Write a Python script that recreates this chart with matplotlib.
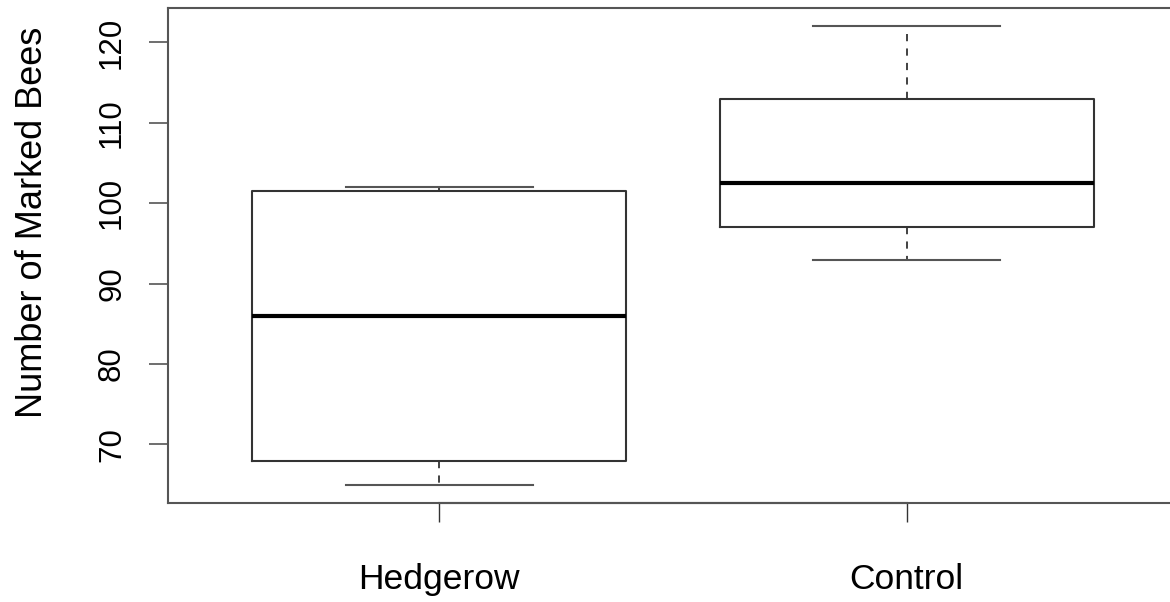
import matplotlib
matplotlib.use("Agg")
import matplotlib.pyplot as plt

plt.rcParams['font.family'] = ['Liberation Sans', 'DejaVu Sans']

groups = ["Hedgerow", "Control"]
whisker_low = [65, 93]
q1 = [68, 97]
medians = [86, 102.5]
q3 = [101.5, 113]
whisker_high = [102, 122]
yticks = [70, 80, 90, 100, 110, 120]

stats = []
for i, g in enumerate(groups):
    stats.append(dict(label=g, whislo=whisker_low[i], q1=q1[i], med=medians[i],
                      q3=q3[i], whishi=whisker_high[i], fliers=[]))

fig = plt.figure(figsize=(11.70, 6.02), dpi=100)
ax = fig.add_axes([0.1436, 0.1645, 0.8632, 0.8222])

pos = [1, 2]
ax.bxp(stats, positions=pos, widths=0.8, patch_artist=False,
       boxprops=dict(color="#333333", linewidth=1.5),
       medianprops=dict(color="black", linewidth=3),
       whiskerprops=dict(color="#333333", linewidth=1.3, linestyle=(0, (4, 4))),
       capprops=dict(color="#555555", linewidth=1.5),
       capwidths=0.4, showfliers=False)

# R-style range with 4% padding
lo, hi = min(whisker_low), max(whisker_high)
pad = 0.04 * (hi - lo)
ax.set_ylim(lo - pad, hi + pad)
ax.set_xlim(0.42, 2.58)

for s in ax.spines.values():
    s.set_color("#555555")
    s.set_linewidth(1.5)

# axis line between the first and last tick, as base R draws it
ax.plot(pos, [lo - pad, lo - pad], color="#222222", linewidth=1.5, clip_on=False)

ax.set_yticks(yticks)
ax.set_yticklabels([str(t) for t in yticks], rotation=90, va="center", fontsize=22.5)
ax.set_xticks(pos)
ax.set_xticklabels(groups, fontsize=25.5)
ax.tick_params(axis="y", length=13.5, width=1.2, color="#555555", pad=16)
ax.tick_params(axis="x", length=13.5, width=1.0, color="#333333", pad=30)
ax.set_ylabel("Number of Marked Bees", fontsize=26)
ax.yaxis.set_label_coords(-0.117, 0.566)

fig.savefig("out.png", dpi=100)
